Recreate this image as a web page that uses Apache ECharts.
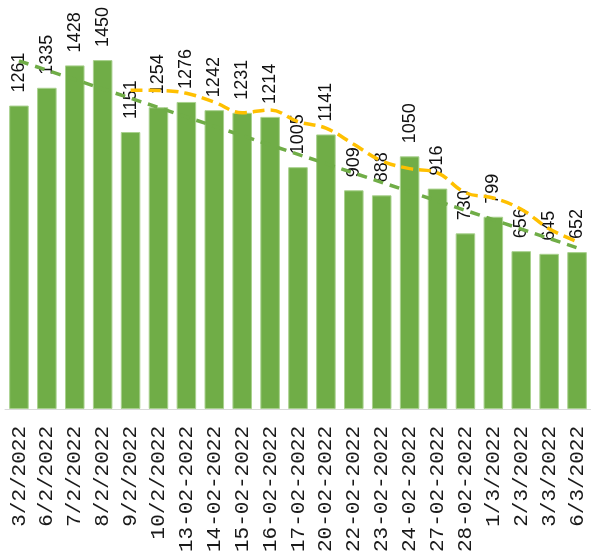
<!DOCTYPE html>
<html>
<head>
<meta charset="utf-8">
<script src="https://cdn.jsdelivr.net/npm/echarts@6/dist/echarts.min.js"></script>
<style>
html,body{margin:0;padding:0;background:#fff;}
#main{width:591px;height:556px;}
</style>
</head>
<body>
<div id="main"></div>
<script>
//日期
var dates = ['3/2/2022','6/2/2022','7/2/2022','8/2/2022','9/2/2022','10/2/2022',
    '13-02-2022','14-02-2022','15-02-2022','16-02-2022','17-02-2022','20-02-2022',
    '22-02-2022','23-02-2022','24-02-2022','27-02-2022','28-02-2022',
    '1/3/2022','2/3/2022','3/3/2022','6/3/2022'];
//每日数值
var counts = [1261,1335,1428,1450,1151,1254,1276,1242,1231,1214,1005,1141,
    909,888,1050,916,730,799,656,645,652];
//移动平均 (黄色虚线)
var movingAvg = [null,null,null,null,1325,1324,1312,1275,1231,1243,1194,1167,
    1100,1031,999,981,899,877,830,749,696];
//趋势线 (绿色虚线) 两端
var trend = [1447,null,null,null,null,null,null,null,null,null,null,null,
    null,null,null,null,null,null,null,null,670];

var chart = echarts.init(document.getElementById('main'));

var option = {
    backgroundColor: '#fff',
    animation: false,
    grid: {
        left: 5,
        right: -5,
        top: 24,
        bottom: 147,
        containLabel: false
    },
    xAxis: {
        type: 'category',
        data: dates,
        axisLine: {lineStyle: {color: '#d9d9d9', width: 1}},
        axisTick: {show: false},
        axisLabel: {
            rotate: 90,
            interval: 0,
            margin: 17,
            color: '#1a1a1a',
            fontSize: 21,
            fontFamily: '"Liberation Mono", "Courier New", Courier, monospace'
        }
    },
    yAxis: {
        type: 'value',
        min: 0,
        max: 1600,
        show: false,
        splitLine: {show: false}
    },
    series: [
        {
            type: 'bar',
            data: counts,
            barCategoryGap: '30%',
            itemStyle: {
                color: '#70ad47',
                borderColor: '#a9d18e',
                borderWidth: 1
            },
            label: {
                show: true,
                position: 'top',
                rotate: 90,
                align: 'left',
                verticalAlign: 'middle',
                distance: 13,
                color: '#111',
                fontSize: 18,
                fontFamily: '"Liberation Sans", Arial, sans-serif'
            },
            z: 1
        },
        {
            type: 'line',
            data: trend,
            connectNulls: true,
            symbol: 'none',
            lineStyle: {color: '#70ad47', width: 3.5, type: [10, 7]},
            z: 3
        },
        {
            type: 'line',
            data: movingAvg,
            smooth: 0.4,
            symbol: 'none',
            lineStyle: {color: '#ffc000', width: 3.5, type: [12, 6]},
            z: 4
        }
    ]
};
chart.setOption(option);
</script>
</body>
</html>
